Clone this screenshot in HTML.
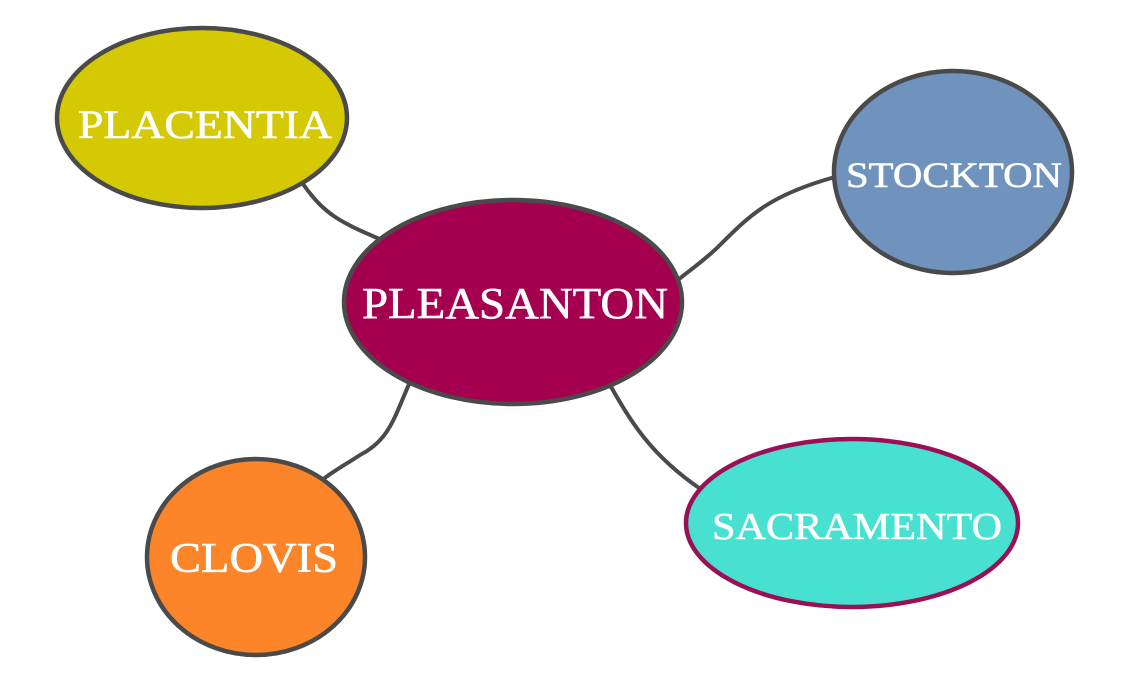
<!DOCTYPE html>
<html><head><style>html,body{margin:0;padding:0;background:#fff}</style></head>
<body>
<svg width="1135" height="688" viewBox="0 0 1135 688" xmlns="http://www.w3.org/2000/svg">
<g fill="none" stroke="#4a4a4a" stroke-width="4" stroke-linecap="round">
<path d="M303,184 C325,215 340,222 382,240"/>
<path d="M835,177 C770,195 750,215 720,245 C705,260 690,270 678,280"/>
<path d="M410,382 C395,415 390,440 360,455 C345,465 335,470 322,480"/>
<path d="M610,385 C630,420 650,455 702,490"/>
</g>
<g stroke-width="4.5">
<ellipse cx="202" cy="118" rx="145" ry="90" fill="#d4c902" stroke="#4a4a4a"/>
<ellipse cx="513" cy="302" rx="169" ry="102" fill="#a5004f" stroke="#4a4a4a"/>
<ellipse cx="953" cy="172" rx="119" ry="101" fill="#6f93bd" stroke="#4a4a4a"/>
<ellipse cx="256" cy="557" rx="109" ry="98" fill="#fb8528" stroke="#4a4a4a"/>
<ellipse cx="852" cy="523" rx="166" ry="84" fill="#48e0d0" stroke="#9b0f55"/>
</g>
<g fill="#fff" stroke="#fff" stroke-width="0.6" font-family="Liberation Serif, serif">
<text x="78" y="138" font-size="40" textLength="254" lengthAdjust="spacingAndGlyphs">PLACENTIA</text>
<text x="362" y="318" font-size="44" textLength="306" lengthAdjust="spacingAndGlyphs">PLEASANTON</text>
<text x="846" y="187" font-size="36" textLength="216" lengthAdjust="spacingAndGlyphs">STOCKTON</text>
<text x="170" y="572" font-size="42" textLength="168" lengthAdjust="spacingAndGlyphs">CLOVIS</text>
<text x="712" y="539" font-size="38" textLength="290" lengthAdjust="spacingAndGlyphs">SACRAMENTO</text>
</g>
</svg>
</body></html>
